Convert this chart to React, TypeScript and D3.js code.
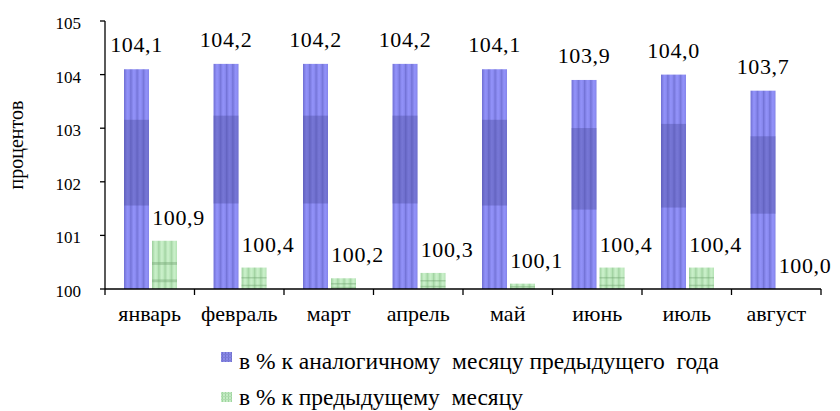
import React from 'react';
import * as d3 from 'd3';

const months = ['январь', 'февраль', 'март', 'апрель', 'май', 'июнь', 'июль', 'август'];
const yoyValues = [104.1, 104.2, 104.2, 104.2, 104.1, 103.9, 104.0, 103.7];
const momValues = [100.9, 100.4, 100.2, 100.3, 100.1, 100.4, 100.4, 100.0];
const yTicks = [100, 101, 102, 103, 104, 105];
const seriesNames = ['в % к аналогичному  месяцу предыдущего  года', 'в % к предыдущему  месяцу'];
const seriesKeys = ['yoy', 'mom'];
const yTitle = 'процентов';

const W = 840;
const H = 411;
const FONT = "'Liberation Serif'";

export default function App() {
  const x = d3.scaleBand<string>().domain(months).range([105, 821]).padding(0);
  const inner = d3
    .scaleBand<string>()
    .domain(seriesKeys)
    .range([19, 19 + 53])
    .paddingInner(3 / 28)
    .paddingOuter(0);
  const y = d3.scaleLinear().domain([100, 105]).range([289, 21]);
  const fmt = (v: number) => d3.format('.1f')(v).replace('.', ',');
  const bw = inner.bandwidth();
  const x0 = y(100);
  const ts = { fontFamily: FONT };

  return (
    <svg width={W} height={H} style={{ position: 'absolute', left: 0, top: 0, background: '#fff' }}>
      <defs>
        <linearGradient id="blueStripe" x1="0" x2="1" y1="0" y2="0">
          <stop offset="0" stopColor="#6f6fd2" />
          <stop offset="0.55" stopColor="#9494fb" />
          <stop offset="1" stopColor="#8484ea" />
        </linearGradient>
        <pattern id="bluePat" patternUnits="objectBoundingBox" patternContentUnits="objectBoundingBox" width="0.25" height="1">
          <rect x="0" y="0" width="0.25" height="1" fill="url(#blueStripe)" />
        </pattern>
        <linearGradient id="greenStripe" x1="0" x2="1" y1="0" y2="0">
          <stop offset="0" stopColor="#9ccf9c" />
          <stop offset="0.55" stopColor="#cdf2cd" />
          <stop offset="1" stopColor="#b4e2b4" />
        </linearGradient>
        <pattern id="greenPat" patternUnits="objectBoundingBox" patternContentUnits="objectBoundingBox" width="0.25" height="1">
          <rect x="0" y="0" width="0.25" height="1" fill="url(#greenStripe)" />
        </pattern>
        <pattern id="blueLeg" patternUnits="userSpaceOnUse" width="3" height="3">
          <rect width="3" height="3" fill="#8a8ae8" />
          <rect width="1" height="3" fill="#7272cc" />
          <rect width="3" height="1" fill="#7c7cd8" />
        </pattern>
        <pattern id="greenLeg" patternUnits="userSpaceOnUse" width="3" height="3">
          <rect width="3" height="3" fill="#c4ecc4" />
          <rect width="1" height="3" fill="#a0d4a0" />
          <rect width="3" height="1" fill="#b0dcb0" />
        </pattern>
      </defs>

      {/* bars */}
      {months.map((m, i) => {
        const bx = (x(m) ?? 0) + (inner('yoy') ?? 0);
        const gx = (x(m) ?? 0) + (inner('mom') ?? 0);
        const by = y(yoyValues[i]);
        const bh = x0 - by;
        const gy = y(momValues[i]);
        const gh = x0 - gy;
        return (
          <g key={m}>
            <rect x={bx} y={by} width={bw} height={bh} fill="url(#bluePat)" />
            <rect x={bx} y={by + bh * 0.23} width={bw} height={bh * 0.39} fill="#4a4a9a" opacity={0.38} />
            {gh > 0 && (
              <>
                <rect x={gx} y={gy} width={bw} height={gh} fill="url(#greenPat)" />
                <rect x={gx} y={gy + gh * 0.44} width={bw} height={Math.max(1.5, gh * 0.06)} fill="#6fa06f" opacity={0.4} />
                <rect x={gx} y={gy + gh * 0.8} width={bw} height={Math.max(1.5, gh * 0.06)} fill="#6fa06f" opacity={0.4} />
              </>
            )}
            <text x={bx + bw / 2} y={by - 17} textAnchor="middle" fontSize={22} letterSpacing={0.6} fill="#000" style={ts}>
              {fmt(yoyValues[i])}
            </text>
            <text x={gx + bw / 2 + 14} y={gy - 16} textAnchor="middle" fontSize={22} letterSpacing={0.6} fill="#000" style={ts}>
              {fmt(momValues[i])}
            </text>
          </g>
        );
      })}

      {/* y axis */}
      <line x1={105} x2={105} y1={y(105)} y2={y(100)} stroke="#000" strokeWidth={1.3} />
      {yTicks.map((t) => (
        <g key={t}>
          <line x1={100} x2={105} y1={y(t)} y2={y(t)} stroke="#000" strokeWidth={1.3} />
          <text x={81} y={y(t) + 8} textAnchor="end" fontSize={17} fill="#000" style={ts}>
            {t}
          </text>
        </g>
      ))}
      <text transform={`translate(23,145) rotate(-90)`} textAnchor="middle" fontSize={20} fill="#000" style={ts}>
        {yTitle}
      </text>

      {/* x axis */}
      <line x1={105} x2={821} y1={x0} y2={x0} stroke="#000" strokeWidth={1.3} />
      {[...months.map((m) => x(m) ?? 0), 821].map((tx, i) => (
        <line key={i} x1={tx} x2={tx} y1={x0} y2={x0 + 6} stroke="#000" strokeWidth={1.3} />
      ))}
      {months.map((m) => (
        <text key={m} x={(x(m) ?? 0) + x.bandwidth() / 2} y={321} textAnchor="middle" fontSize={22} fill="#000" style={ts}>
          {m}
        </text>
      ))}

      {/* legend */}
      {seriesNames.map((name, i) => (
        <g key={name}>
          <rect x={221} y={352 + i * 40} width={11} height={10} fill={i === 0 ? 'url(#blueLeg)' : 'url(#greenLeg)'} />
          <text x={239} y={369 + i * 36} fontSize={23.5} fill="#000" style={{ ...ts, whiteSpace: 'pre' }}>
            {name}
          </text>
        </g>
      ))}
    </svg>
  );
}
